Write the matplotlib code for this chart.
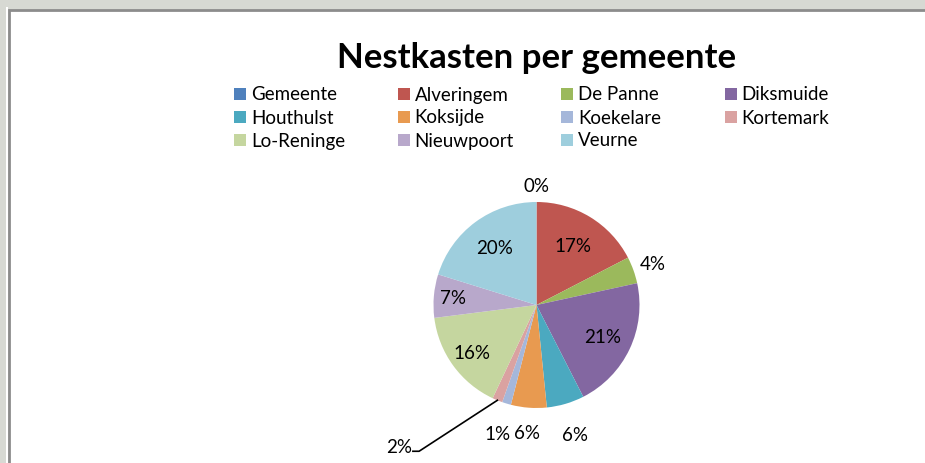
import numpy as np
import matplotlib.pyplot as plt
from matplotlib.patches import Rectangle

plt.rcParams['font.family'] = ['Lato', 'DejaVu Sans']

gemeenten = ['Gemeente', 'Alveringem', 'De Panne', 'Diksmuide', 'Houthulst', 'Koksijde',
             'Koekelare', 'Kortemark', 'Lo-Reninge', 'Nieuwpoort', 'Veurne']
aandeel = [0.0, 17.4, 4.2, 20.9, 5.9, 5.6, 1.4, 1.6, 16.0, 6.8, 20.2]
kleuren = ['#4F81BD', '#BF5650', '#9BB95C', '#8367A1', '#4BA9C0', '#E89A50',
           '#A5B7DA', '#DAA2A1', '#C5D69F', '#B8A8CB', '#9ECEDD']

# label distance from centre (pie radius = 1)
lab_r = [1.16, 0.68, 1.2, 0.71, 1.31, 1.24, 1.3, 1.0, 0.78, 0.81, 0.69]

W, H = 925, 464
fig = plt.figure(figsize=(W / 100, H / 100), dpi=100)
fig.patch.set_facecolor('#D7D9D3')

# chart area frame
fig.patches.append(Rectangle((6 / W, 0), 2 / W, (H - 8) / H, transform=fig.transFigure,
                             facecolor='white', edgecolor='none', zorder=-10))
fig.patches.append(Rectangle((9 / W, -0.05), 1.2, (H - 11) / H + 0.05, transform=fig.transFigure,
                             facecolor='white', edgecolor='#8C8C8C', linewidth=2, zorder=-10))

fig.text(537 / W, 1 - 68 / H, 'Nestkasten per gemeente', ha='center', va='baseline',
         fontsize=25, fontweight='bold', color='black')

# legend, row-wise like Excel
fs = 13.5
for i, (naam, kl) in enumerate(zip(gemeenten, kleuren)):
    r, c = divmod(i, 4)
    x = 234 + 163.5 * c
    y = 95 + 23 * r
    fig.patches.append(Rectangle((x / W, 1 - (y + 6) / H), 12 / W, 12 / H,
                                 transform=fig.transFigure, facecolor=kl, edgecolor='none'))
    fig.text((x + 17) / W, 1 - y / H, naam, ha='left', va='center', fontsize=fs)

# pie
R = 103
cx, cy = 536.5, 306
S = 250
ax = fig.add_axes([(cx - S) / W, (H - cy - S) / H, 2 * S / W, 2 * S / H])

wedges, _ = ax.pie(aandeel, colors=kleuren, startangle=90, counterclock=False,
                   radius=1, wedgeprops=dict(linewidth=0))
ax.set_xlim(-S / R, S / R)
ax.set_ylim(-S / R, S / R)
ax.axis('off')

totaal = sum(aandeel)
for w, v, rr, naam in zip(wedges, aandeel, lab_r, gemeenten):
    mid = np.deg2rad((w.theta1 + w.theta2) / 2)
    txt = f'{round(v / totaal * 100)}%'
    if naam == 'Kortemark':
        ex, ey = np.cos(mid), np.sin(mid)
        lx, ly = -1.33, -1.37
        ax.plot([lx + 0.13, lx + 0.19, ex], [ly - 0.05, ly - 0.05, ey], color='black', lw=1.2)
        ax.text(lx, ly, txt, ha='center', va='center', fontsize=fs)
        continue
    ax.text(rr * np.cos(mid), rr * np.sin(mid), txt, ha='center', va='center', fontsize=fs)

fig.savefig('out.png', dpi=100, facecolor=fig.get_facecolor())
